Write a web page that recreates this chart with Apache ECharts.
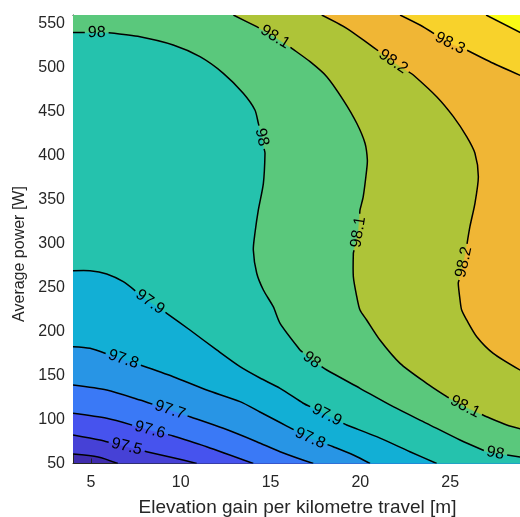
<!DOCTYPE html>
<html>
<head>
<meta charset="utf-8">
<script src="https://cdn.jsdelivr.net/npm/echarts@6/dist/echarts.min.js"></script>
<style>
html, body { margin: 0; padding: 0; background: #fff; }
#main { width: 520px; height: 517px; }
</style>
</head>
<body>
<div id="main"></div>
<script>
var chartDom = document.getElementById('main');
var myChart = echarts.init(chartDom);
var option;

// axis ranges and ticks
var xMin = 4, xMax = 29, yMin = 50, yMax = 560;
var xTicks = [5, 10, 15, 20, 25];
var yTicks = [50, 100, 150, 200, 250, 300, 350, 400, 450, 500, 550];

// contour levels, and one fill colour per band (below first level ... above last)
var levels = [97.4, 97.5, 97.6, 97.7, 97.8, 97.9, 98, 98.1, 98.2, 98.3, 98.4];
var bandColors = ['#3f2cad', '#4641d6', '#4653ee', '#3a79f6', '#2895e5', '#12afd5',
    '#25c2ad', '#5ac87c', '#aec438', '#f0b635', '#f8d22b', '#f9fb15'];

// contour lines [elevation gain, power]
var c974 = [[4, 60.8], [5.4, 57.5], [6.5, 50]];
var c975 = [[4, 82.4], [5.5, 76.7], [6.99, 69.1], [8.1, 63.4], [9.58, 56.6], [10.89, 50]];
var c976 = [[4, 107.1], [5.88, 101.4], [8.29, 88.1], [9.58, 81.3], [11.44, 69.1], [14.04, 50]];
var c977 = [[4, 139.3], [5.88, 133.6], [7.73, 122.2], [9.4, 110.8], [10.51, 103.2], [12.37, 90],
    [14.23, 74.8], [15.53, 63.4], [17.38, 50]];
var c978 = [[4, 182.8], [4.95, 181], [6.8, 168.5], [7.73, 162], [9.58, 148.7], [11.44, 133.6],
    [13.3, 120.3], [14.41, 108.6], [15.53, 96.6], [17.2, 78.7], [18.49, 69.1], [19.61, 59.7], [20.54, 50]];
var c979 = [[4, 269.2], [4.95, 269.2], [5.88, 265.5], [6.8, 256.7], [8.29, 233.6], [9.22, 220.8],
    [10.51, 201.8], [12, 179.1], [13.3, 160.1], [14.41, 147.2], [15.53, 135.5], [16.82, 118.5],
    [18.13, 105.2], [19.24, 93.8], [20.91, 80.5], [22.76, 63.4], [24.25, 50]];
var c980 = [[4, 540], [5.9, 540], [7.73, 535.3], [9.58, 525.9], [11.07, 512.6], [12.37, 493.7],
    [13.48, 471], [14.13, 452], [14.32, 436.8], [14.51, 421.6], [14.69, 402.7], [14.6, 368.6],
    [14.32, 338.3], [14.13, 311.8], [14.04, 292.8], [14.23, 266.3], [14.6, 247.3], [15.15, 228.3],
    [15.53, 209.4], [16.64, 179.1], [17.29, 167.7], [18.13, 156.3], [19.98, 135.5], [21.83, 114.6],
    [23.69, 95.7], [25.55, 76.7], [27.03, 63.4], [29, 57]];
var c981 = [[12.93, 560], [14.23, 546.7], [15.25, 535], [16.18, 522.1], [17.2, 506.9], [18.13, 489.9],
    [19.05, 463.3], [19.8, 436.9], [20.26, 414.1], [20.39, 395.1], [20.35, 383.7], [20.16, 353.4],
    [19.98, 338.3], [19.89, 313.6], [19.61, 289], [19.61, 262.4], [19.8, 239.7], [19.98, 224.5],
    [20.35, 213.2], [21.09, 190.4], [22.21, 163.9], [23.69, 141.2], [24.81, 126], [25.83, 114.6],
    [27.03, 103.2], [28.15, 93.8], [29, 89]];
var c982 = [[17.85, 560], [19.24, 544.9], [20.54, 526], [21.83, 506.9], [22.95, 491.8], [24.25, 467.1],
    [25.18, 444.4], [25.92, 421.6], [26.38, 402.7], [26.57, 376.1], [26.38, 345.9], [26.1, 319.3],
    [25.77, 279.5], [25.45, 254.9], [25.55, 235.9], [25.64, 224.5], [25.92, 213.2], [26.48, 194.2],
    [27.4, 175.3], [29, 155]];
var c983 = [[22.21, 560], [23.32, 548.6], [24.99, 527.8], [25.92, 520.2], [27.4, 505.1], [29, 490.5]];
var c984 = [[27, 560], [29, 539]];
var contours = [c974, c975, c976, c977, c978, c979, c980, c981, c982, c983, c984];

// where the inline level labels sit on each line
var labelSpots = [
    [],
    [[6.99, 69.1]],
    [[8.29, 88.1]],
    [[9.4, 110.8]],
    [[6.8, 168.5], [17.2, 78.7]],
    [[8.29, 233.6], [18.13, 105.2]],
    [[5.32, 539], [14.5, 421], [17.29, 167.7], [27.5, 59.7]],
    [[15.25, 535], [19.89, 313], [25.83, 114.6]],
    [[21.83, 507], [25.77, 279]],
    [[24.99, 528]],
    []
];

var FONT = '"Liberation Sans", Arial, Helvetica, sans-serif';
var labelSize = 16;

// position of a boundary point along the box perimeter (counter-clockwise from bottom-left)
function perim(p) {
    var e = 1e-6;
    if (Math.abs(p[1] - yMin) < e) return (p[0] - xMin) / (xMax - xMin);
    if (Math.abs(p[0] - xMax) < e) return 1 + (p[1] - yMin) / (yMax - yMin);
    if (Math.abs(p[1] - yMax) < e) return 2 + (xMax - p[0]) / (xMax - xMin);
    return 3 + (yMax - p[1]) / (yMax - yMin);
}
var corners = [[xMax, yMin], [xMax, yMax], [xMin, yMax], [xMin, yMin]];

function fillItem(params, api) {
    var i = params.dataIndex;
    var pts = contours[i].slice();
    var t0 = perim(pts[0]);
    var t1 = perim(pts[pts.length - 1]);
    if (t0 <= t1) t0 += 4;
    for (var k = Math.floor(t1) + 1; k < t0; k++) pts.push(corners[(k - 1) % 4]);
    return {
        type: 'polygon',
        shape: { points: pts.map(function (p) { return api.coord(p); }) },
        style: { fill: bandColors[i + 1], stroke: bandColors[i + 1], lineWidth: 0.5 }
    };
}

function textWidth(s) {
    var w = 0;
    for (var k = 0; k < s.length; k++) w += s[k] === '.' ? 0.278 : 0.556;
    return w * labelSize;
}

function lineItem(params, api) {
    var i = params.dataIndex;
    var px = contours[i].map(function (p) { return api.coord(p); });
    var cum = [0];
    for (var k = 1; k < px.length; k++) {
        cum.push(cum[k - 1] + Math.hypot(px[k][0] - px[k - 1][0], px[k][1] - px[k - 1][1]));
    }
    var total = cum[cum.length - 1];
    function at(s) {
        s = Math.max(0, Math.min(total, s));
        for (var k = 1; k < px.length; k++) {
            if (s <= cum[k]) {
                var f = (s - cum[k - 1]) / ((cum[k] - cum[k - 1]) || 1);
                return [px[k - 1][0] + f * (px[k][0] - px[k - 1][0]), px[k - 1][1] + f * (px[k][1] - px[k - 1][1])];
            }
        }
        return px[px.length - 1];
    }
    function nearest(q) {
        var best = Infinity, bs = 0;
        for (var k = 1; k < px.length; k++) {
            var ax = px[k - 1][0], ay = px[k - 1][1], dx = px[k][0] - ax, dy = px[k][1] - ay;
            var L2 = dx * dx + dy * dy || 1;
            var f = Math.max(0, Math.min(1, ((q[0] - ax) * dx + (q[1] - ay) * dy) / L2));
            var d = Math.hypot(ax + f * dx - q[0], ay + f * dy - q[1]);
            if (d < best) { best = d; bs = cum[k - 1] + f * (cum[k] - cum[k - 1]); }
        }
        return bs;
    }
    function sub(a, b) {
        var out = [at(a)];
        for (var k = 0; k < px.length; k++) if (cum[k] > a && cum[k] < b) out.push(px[k]);
        out.push(at(b));
        return out;
    }
    var label = String(levels[i]);
    var halfW = textWidth(label) / 2 + 3;
    var gaps = [], texts = [];
    labelSpots[i].forEach(function (spot) {
        var s = nearest(api.coord(spot));
        var a = at(s - halfW), b = at(s + halfW), c = at(s);
        var ang = Math.atan2(b[1] - a[1], b[0] - a[0]);
        if (ang > Math.PI / 2) ang -= Math.PI;
        if (ang <= -Math.PI / 2) ang += Math.PI;
        gaps.push([s - halfW, s + halfW]);
        texts.push({
            type: 'text', x: c[0], y: c[1], rotation: -ang, z2: 10,
            style: { text: label, fill: '#000', font: labelSize + 'px ' + FONT, align: 'center', verticalAlign: 'middle' }
        });
    });
    gaps.sort(function (g, h) { return g[0] - h[0]; });
    var pieces = [], start = 0;
    gaps.forEach(function (g) {
        if (g[0] > start) pieces.push([start, g[0]]);
        start = Math.max(start, g[1]);
    });
    if (start < total) pieces.push([start, total]);
    var children = pieces.map(function (r) {
        return {
            type: 'polyline', shape: { points: sub(r[0], r[1]), smooth: 0.25 },
            style: { stroke: '#000', lineWidth: 1.5, fill: null }
        };
    });
    return { type: 'group', children: children.concat(texts) };
}

var axisColor = '#262626';
function xAxisOf(pos, labels) {
    return {
        type: 'value', position: pos, min: xMin, max: xMax,
        axisLine: { onZero: false, lineStyle: { color: axisColor, width: 1 } },
        axisTick: { inside: true, length: 5, customValues: xTicks, lineStyle: { color: axisColor } },
        axisLabel: { show: labels, customValues: xTicks, margin: 11, color: axisColor, fontSize: 16, fontFamily: FONT },
        splitLine: { show: false }
    };
}
function yAxisOf(pos, labels) {
    return {
        type: 'value', position: pos, min: yMin, max: yMax,
        axisLine: { onZero: false, lineStyle: { color: axisColor, width: 1 } },
        axisTick: { inside: true, length: 5, customValues: yTicks, lineStyle: { color: axisColor } },
        axisLabel: { show: labels, customValues: yTicks, margin: 8, color: axisColor, fontSize: 16, fontFamily: FONT },
        splitLine: { show: false }
    };
}

var xBottom = xAxisOf('bottom', true);
xBottom.name = 'Elevation gain per kilometre travel [m]';
xBottom.nameLocation = 'middle';
xBottom.nameGap = 35;
xBottom.nameTextStyle = { color: axisColor, fontSize: 19, fontFamily: FONT };

var itemIds = contours.map(function (c, i) { return [i]; });

option = {
    animation: false,
    grid: {
        left: 73, right: -2, top: 15, bottom: 53.5,
        show: true, backgroundColor: bandColors[0], borderWidth: 0,
        outerBoundsMode: 'none'
    },
    xAxis: [xBottom, xAxisOf('top', false)],
    yAxis: [yAxisOf('left', true), yAxisOf('right', false)],
    graphic: [{
        type: 'text', x: 20, y: 254, rotation: Math.PI / 2,
        style: { text: 'Average power [W]', fill: axisColor, font: '16px ' + FONT, align: 'center', verticalAlign: 'middle' }
    }],
    series: [
        { type: 'custom', clip: true, data: itemIds, renderItem: fillItem, z: 1, silent: true },
        { type: 'custom', clip: true, data: itemIds, renderItem: lineItem, z: 2, silent: true }
    ]
};

option && myChart.setOption(option);
</script>
</body>
</html>
